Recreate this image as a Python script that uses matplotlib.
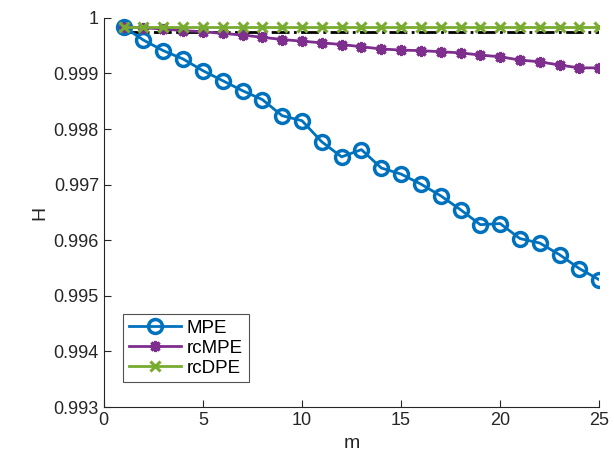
import numpy as np
import matplotlib.pyplot as plt

plt.rcParams['font.family'] = ['Liberation Sans', 'DejaVu Sans']

m = np.arange(1, 26)
mpe = [0.99984, 0.99960, 0.99941, 0.99926, 0.99905, 0.99887, 0.99869, 0.99853,
       0.99824, 0.99815, 0.99777, 0.99750, 0.99763, 0.99730, 0.99719, 0.99701,
       0.99680, 0.99655, 0.99628, 0.99630, 0.99603, 0.99595, 0.99574, 0.99549,
       0.99529]
rcmpe = [0.99984, 0.99982, 0.99980, 0.99977, 0.99975, 0.99972, 0.99969, 0.99965,
         0.99961, 0.99958, 0.99955, 0.99952, 0.99948, 0.99944, 0.99942, 0.99941,
         0.99939, 0.99937, 0.99933, 0.99930, 0.99924, 0.99921, 0.99915, 0.99910,
         0.99910]
rcdpe = [0.99983] * 25
ref_level = 0.99974

fig = plt.figure(figsize=(6.14, 4.69), dpi=100)
ax = fig.add_axes([0.169, 0.132, 0.807, 0.830])

ax.plot(m, mpe, '-o', color='#0072BD', lw=2, ms=10, mfc='none', mew=2.5, label='MPE')
ax.plot(m, rcmpe, '-', marker=(8, 2, 0), color='#7E2F8E', lw=2, ms=8, mew=2.2, label='rcMPE')
ax.plot(m, rcdpe, '-x', color='#77AC30', lw=2, ms=7, mew=2.2, label='rcDPE')
ax.plot([m[0], m[-1]], [ref_level, ref_level], '-.', color='k', lw=2, zorder=1)

ax.set_xlim(0, 25)
ax.set_ylim(0.993, 1.0)
ax.set_xticks([0, 5, 10, 15, 20, 25])
ax.set_yticks(np.arange(0.993, 1.0001, 0.001))
ax.set_yticklabels(['0.993', '0.994', '0.995', '0.996', '0.997', '0.998', '0.999', '1'])
ax.tick_params(direction='in', labelsize=13, length=5, colors='#262626')
for s in ['top', 'right']:
    ax.spines[s].set_visible(False)
for s in ['left', 'bottom']:
    ax.spines[s].set_color('#262626')
ax.set_xlabel('m', fontsize=14, color='#262626')
ax.set_ylabel('H', fontsize=14, color='#262626')

leg = ax.legend(loc='lower left', bbox_to_anchor=(0.02, 0.04), fontsize=13.5, fancybox=False,
                edgecolor='#262626', handlelength=2.8, borderpad=0.3, labelspacing=0.15,
                handletextpad=0.3)
leg.get_frame().set_linewidth(0.8)

fig.savefig('out.png', dpi=100)
